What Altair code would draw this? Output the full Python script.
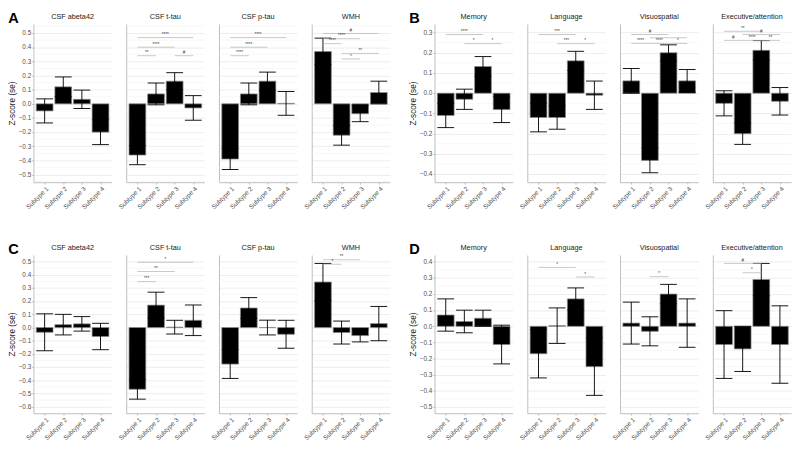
import json
import numpy as np
import pandas as pd
import altair as alt

subtypes = ["Subtype 1", "Subtype 2", "Subtype 3", "Subtype 4"]

# ---------------- Panel A ----------------
a_measures = ["CSF abeta42", "CSF t-tau", "CSF p-tau", "WMH"]
a_mean = [[-0.050, 0.120, 0.032, -0.200],
          [-0.362, 0.070, 0.160, -0.029],
          [-0.390, 0.070, 0.160, 0.003],
          [0.370, -0.222, -0.070, 0.080]]
a_se = [[0.085, 0.070, 0.065, 0.088],
        [0.068, 0.077, 0.060, 0.087],
        [0.074, 0.077, 0.064, 0.084],
        [0.094, 0.070, 0.056, 0.080]]
# (measure index, from subtype, to subtype, height, label)
a_sig = [(1, 1, 2, 0.340, "**"), (1, 1, 3, 0.400, "****"), (1, 1, 4, 0.468, "****"), (1, 3, 4, 0.340, "#"),
         (2, 1, 2, 0.340, "****"), (2, 1, 3, 0.400, "****"), (2, 1, 4, 0.468, "****"),
         (3, 1, 4, 0.497, "#"), (3, 1, 3, 0.460, "****"), (3, 1, 2, 0.425, "****"),
         (3, 2, 4, 0.356, "**"), (3, 2, 3, 0.317, "*")]
a_domain = [-0.554, 0.564]
a_ticks = [-0.5, -0.4, -0.3, -0.2, -0.1, 0.0, 0.1, 0.2, 0.3, 0.4, 0.5]

# ---------------- Panel B ----------------
b_measures = ["Memory", "Language", "Visuospatial", "Executive/attention"]
b_mean = [[-0.110, -0.030, 0.132, -0.081],
          [-0.120, -0.120, 0.160, -0.010],
          [0.061, -0.332, 0.200, 0.061],
          [-0.050, -0.200, 0.212, -0.040]]
b_se = [[0.060, 0.050, 0.049, 0.064],
        [0.071, 0.058, 0.047, 0.070],
        [0.061, 0.061, 0.039, 0.056],
        [0.062, 0.053, 0.048, 0.068]]
b_sig = [(0, 1, 3, 0.290, "****"), (0, 2, 3, 0.245, "*"), (0, 3, 4, 0.245, "*"),
         (1, 1, 3, 0.290, "***"), (1, 2, 3, 0.245, "***"), (1, 3, 4, 0.245, "*"),
         (2, 1, 3, 0.290, "#"), (2, 2, 4, 0.274, ""), (2, 1, 2, 0.246, "****"),
         (2, 2, 3, 0.246, "****"), (2, 3, 4, 0.246, "*"),
         (3, 1, 3, 0.306, "**"), (3, 2, 4, 0.290, "#"), (3, 1, 2, 0.261, "#"),
         (3, 2, 3, 0.261, "****"), (3, 3, 4, 0.261, "**")]
b_domain = [-0.440, 0.342]
b_ticks = [-0.4, -0.3, -0.2, -0.1, 0.0, 0.1, 0.2, 0.3]

# ---------------- Panel C ----------------
c_measures = ["CSF abeta42", "CSF t-tau", "CSF p-tau", "WMH"]
c_mean = [[-0.036, 0.022, 0.028, -0.068],
          [-0.468, 0.170, 0.003, 0.055],
          [-0.277, 0.148, 0.000, -0.051],
          [0.345, -0.038, -0.061, 0.030]]
c_se = [[0.140, 0.078, 0.055, 0.100],
        [0.075, 0.098, 0.052, 0.116],
        [0.109, 0.079, 0.056, 0.106],
        [0.141, 0.087, 0.048, 0.130]]
c_sig = [(1, 1, 2, 0.348, "***"), (1, 1, 3, 0.425, "**"), (1, 1, 4, 0.495, "*"),
         (3, 1, 3, 0.514, "**"), (3, 1, 2, 0.480, "*")]
c_domain = [-0.650, 0.550]
c_ticks = [-0.6, -0.5, -0.4, -0.3, -0.2, -0.1, 0.0, 0.1, 0.2, 0.3, 0.4, 0.5]

# ---------------- Panel D ----------------
d_measures = ["Memory", "Language", "Visuospatial", "Executive/attention"]
d_mean = [[0.070, 0.030, 0.050, -0.113],
          [-0.170, 0.004, 0.170, -0.250],
          [0.020, -0.031, 0.200, 0.020],
          [-0.113, -0.140, 0.290, -0.113]]
d_se = [[0.100, 0.070, 0.050, 0.120],
        [0.150, 0.110, 0.068, 0.178],
        [0.130, 0.090, 0.060, 0.150],
        [0.210, 0.140, 0.100, 0.240]]
d_sig = [(1, 1, 3, 0.365, "*"), (1, 3, 4, 0.306, "*"),
         (2, 2, 3, 0.308, "*"),
         (3, 1, 3, 0.390, "#"), (3, 2, 3, 0.332, "*")]
d_domain = [-0.539, 0.442]
d_ticks = [-0.5, -0.4, -0.3, -0.2, -0.1, 0.0, 0.1, 0.2, 0.3, 0.4]

FONT = "Liberation Sans"
FACET_W = 86
HALF_BAR = 0.45
AXIS_GREY = "#b8b8b8"
LABEL_GREY = "#4d4d4d"


def facet(measure, means, ses, sigs, domain, ticks, height, first):
    idx = [1, 2, 3, 4]
    df = pd.DataFrame({"idx": idx, "mean": means, "se": ses})
    xscale = alt.Scale(domain=[0.4, 4.6], nice=False, zero=False)
    yscale = alt.Scale(domain=domain, nice=False, zero=False)
    ticks = [float(round(t, 1)) + 0.0 for t in ticks]
    minors = [round(t + 0.05, 2) for t in ticks if domain[0] < t + 0.05 < domain[1]]
    if ticks[0] - 0.05 > domain[0]:
        minors.append(round(ticks[0] - 0.05, 2))
    label_expr = json.dumps(subtypes) + "[datum.value - 1]"
    xaxis = alt.Axis(values=idx, labelExpr=label_expr, labelAngle=-45, title=None,
                     labelFontSize=7, labelColor=LABEL_GREY, tickColor=AXIS_GREY,
                     tickSize=2, domainColor=AXIS_GREY, grid=False, labelPadding=1,
                     labelFont=FONT, labelOverlap=False, labelAlign="right",
                     labelBaseline="top")
    if first:
        yaxis = alt.Axis(values=ticks, format=".1f", title="Z-score (se)",
                         titleFontSize=9, titleFontWeight="normal", titleColor="#1a1a1a",
                         titlePadding=2, labelFontSize=7, labelColor=LABEL_GREY,
                         tickSize=2, tickColor=AXIS_GREY, domainColor=AXIS_GREY,
                         grid=True, gridColor="#e6e6e6", gridWidth=0.8, labelPadding=1,
                         labelFont=FONT, titleFont=FONT, labelOverlap=False)
    else:
        yaxis = alt.Axis(values=ticks, labels=False, ticks=False, title=None,
                         domainColor=AXIS_GREY, grid=True, gridColor="#e6e6e6",
                         gridWidth=0.8)

    def X(f):
        return alt.X(f, scale=xscale, axis=xaxis)

    def Y(f):
        return alt.Y(f, scale=yscale, axis=yaxis)

    base = alt.Chart(df).transform_calculate(
        lo="datum.mean - datum.se", hi="datum.mean + datum.se",
        x0="datum.idx - %s" % HALF_BAR, x1="datum.idx + %s" % HALF_BAR)

    minor = alt.Chart(pd.DataFrame({"v": minors})).mark_rule(
        color="#f1f1f1", strokeWidth=0.6).encode(y=Y("v:Q"))

    bars = base.mark_bar(color="black", stroke="#8a8a8a", strokeWidth=0.8).encode(
        x=X("x0:Q"), x2="x1:Q", y=Y("mean:Q"), y2=alt.datum(0))

    err = base.mark_rule(color="black", strokeWidth=1).encode(
        x=X("idx:Q"), y=Y("lo:Q"), y2="hi:Q")
    cap_lo = base.mark_rule(color="black", strokeWidth=1).encode(
        x=X("x0:Q"), x2="x1:Q", y=Y("lo:Q"))
    cap_hi = base.mark_rule(color="black", strokeWidth=1).encode(
        x=X("x0:Q"), x2="x1:Q", y=Y("hi:Q"))

    layers = [minor, bars, err, cap_lo, cap_hi]

    if sigs:
        sdf = pd.DataFrame(sigs, columns=["a", "b", "y", "label"])
        sbase = alt.Chart(sdf).transform_calculate(mid="(datum.a + datum.b) / 2")
        srule = sbase.mark_rule(color="#b5b5b5", strokeWidth=0.8).encode(
            x=X("a:Q"), x2="b:Q", y=Y("y:Q"))
        stext = sbase.mark_text(fontSize=5, color="#444444", baseline="bottom",
                                dy=-0.5, font=FONT).encode(
            x=X("mid:Q"), y=Y("y:Q"), text="label:N")
        layers += [srule, stext]

    return alt.layer(*layers).properties(
        width=FACET_W, height=height,
        title=alt.TitleParams(measure, fontSize=8, fontWeight="normal",
                              color="#1a1a1a", font=FONT, offset=3,
                              frame="group", anchor="middle"))


def panel(measures, means, ses, sigs, domain, ticks, height, letter):
    charts = []
    for i, m in enumerate(measures):
        s = [(a, b, y, lab) for (k, a, b, y, lab) in sigs if k == i]
        charts.append(facet(m, means[i], ses[i], s, domain, ticks, height, i == 0))
    return alt.hconcat(*charts, spacing=4).properties(
        title=alt.TitleParams(letter, fontSize=16, fontWeight="bold", color="black",
                              font=FONT, anchor="start", offset=-13))


pa = panel(a_measures, a_mean, a_se, a_sig, a_domain, a_ticks, 174, "A")
pb = panel(b_measures, b_mean, b_se, b_sig, b_domain, b_ticks, 174, "B")
pc = panel(c_measures, c_mean, c_se, c_sig, c_domain, c_ticks, 174, "C")
pd_ = panel(d_measures, d_mean, d_se, d_sig, d_domain, d_ticks, 174, "D")

chart = alt.vconcat(
    alt.hconcat(pa, pb, spacing=20),
    alt.hconcat(pc, pd_, spacing=20),
    spacing=34,
).properties(padding={"top": -19, "left": 0, "right": 0, "bottom": 0},
             background="white").configure_view(stroke=None)

chart.save("out.html", embed_options={"renderer": "svg", "actions": False})
